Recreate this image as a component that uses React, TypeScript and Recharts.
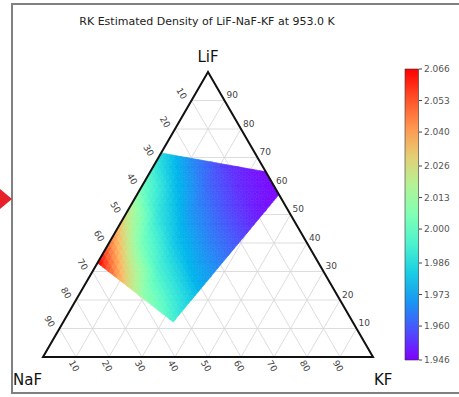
import { ScatterChart, Scatter, XAxis, YAxis, BarChart, Bar } from 'recharts'

const SQ = Math.sqrt(3) / 2

const TITLE = 'RK Estimated Density of LiF-NaF-KF at 953.0 K'
const tickPercents = [10, 20, 30, 40, 50, 60, 70, 80, 90]

// corners of the shaded composition region (mole fractions)
const regionLiF = [0.716, 0.65, 0.57, 0.123, 0.33]
const regionKF = [0, 0.35, 0.43, 0.333, 0]

// density read at the 10 % grid nodes: rows = LiF 10..80 %, columns = KF 0, 10, 20 ... %
const densityRows = [
  [2.11, 2.06, 2.034, 2.003, 1.982, 1.97],
  [2.09, 2.053, 2.012, 1.99, 1.973, 1.962],
  [2.075, 2.03, 1.994, 1.976, 1.966, 1.958],
  [2.048, 2.004, 1.98, 1.967, 1.958, 1.95],
  [2.025, 1.988, 1.97, 1.959, 1.95, 1.946],
  [2.002, 1.978, 1.962, 1.952, 1.947],
  [1.986, 1.968, 1.955, 1.948],
  [1.976, 1.96],
]

const cbarMin = 1.946
const cbarMax = 2.066
const cbarTicks = [1.946, 1.96, 1.973, 1.986, 2.0, 2.013, 2.026, 2.04, 2.053, 2.066]

// layout of the triangle plot
const W = 459
const H = 397
const M = { top: 72, right: 86, bottom: 40, left: 43 }
const KX = W - M.left - M.right
const KY = (H - M.top - M.bottom) / SQ

const toXY = (lif: number, kf: number) => [kf + lif / 2, lif * SQ]

// matplotlib "rainbow"
function rainbow(t: number) {
  const v = Math.max(0, Math.min(1, t))
  const r = Math.min(1, Math.abs(2 * v - 0.5))
  const g = Math.sin(Math.PI * v)
  const b = Math.cos((Math.PI * v) / 2)
  return `rgb(${Math.round(r * 255)},${Math.round(g * 255)},${Math.round(b * 255)})`
}

function nodeVal(i: number, j: number) {
  const row = densityRows[i - 1]
  return row[Math.min(j, row.length - 1)]
}

function densityAt(lif: number, kf: number) {
  const a = lif * 10
  const b = kf * 10
  const i = Math.min(7, Math.max(1, Math.floor(a)))
  const j = Math.max(0, Math.floor(b))
  const fa = a - i
  const fb = b - j
  if (fa + fb <= 1) {
    return nodeVal(i, j) * (1 - fa - fb) + nodeVal(i + 1, j) * fa + nodeVal(i, j + 1) * fb
  }
  return (
    nodeVal(i + 1, j + 1) * (fa + fb - 1) +
    nodeVal(i + 1, j) * (1 - fb) +
    nodeVal(i, j + 1) * (1 - fa)
  )
}

const regionXY = regionLiF.map((a, i) => toXY(a, regionKF[i]))
const orient = Math.sign(
  regionXY.reduce((s, p, i) => {
    const q = regionXY[(i + 1) % regionXY.length]
    return s + p[0] * q[1] - q[0] * p[1]
  }, 0)
)

function clipToRegion(poly: number[][]) {
  let out = poly
  for (let e = 0; e < regionXY.length && out.length; e++) {
    const A = regionXY[e]
    const B = regionXY[(e + 1) % regionXY.length]
    const side = (p: number[]) =>
      orient * ((B[0] - A[0]) * (p[1] - A[1]) - (B[1] - A[1]) * (p[0] - A[0]))
    const input = out
    out = []
    for (let k = 0; k < input.length; k++) {
      const P = input[k]
      const Q = input[(k + 1) % input.length]
      const sp = side(P)
      const sq = side(Q)
      if (sp >= 0) out.push(P)
      if (sp >= 0 !== sq >= 0) {
        const t = sp / (sp - sq)
        out.push([P[0] + t * (Q[0] - P[0]), P[1] + t * (Q[1] - P[1])])
      }
    }
  }
  return out
}

const N = 60
const cells: { x: number; y: number; pts: number[][]; fill: string }[] = []
for (let i = 0; i < N; i++) {
  for (let j = 0; j < N - i; j++) {
    const tris = [[toXY(i / N, j / N), toXY((i + 1) / N, j / N), toXY(i / N, (j + 1) / N)]]
    if (i + j < N - 1) {
      tris.push([toXY((i + 1) / N, j / N), toXY((i + 1) / N, (j + 1) / N), toXY(i / N, (j + 1) / N)])
    }
    for (const tri of tris) {
      const poly = clipToRegion(tri)
      if (poly.length < 3) continue
      const cx = poly.reduce((s, p) => s + p[0], 0) / poly.length
      const cy = poly.reduce((s, p) => s + p[1], 0) / poly.length
      const lif = cy / SQ
      const d = densityAt(lif, cx - lif / 2)
      cells.push({
        x: cx,
        y: cy,
        pts: poly.map((p) => [p[0] - cx, p[1] - cy]),
        fill: rainbow((d - cbarMin) / (cbarMax - cbarMin)),
      })
    }
  }
}

const gridSegs = tickPercents.flatMap((p) => {
  const f = p / 100
  const pairs = [
    [toXY(f, 0), toXY(f, 1 - f)],
    [toXY(0, f), toXY(1 - f, f)],
    [toXY(1 - f, 0), toXY(0, 1 - f)],
  ]
  return pairs.map(([a, b]) => ({ x: a[0], y: a[1], dx: b[0] - a[0], dy: b[1] - a[1] }))
})

const cornerXY = [toXY(1, 0), toXY(0, 0), toXY(0, 1)]
const borderData = [{ x: cornerXY[0][0], y: cornerXY[0][1] }]

const leftTicks = tickPercents.map((p) => {
  const [x, y] = toXY(1 - p / 100, 0)
  return { x, y, label: String(p) }
})
const rightTicks = tickPercents.map((p) => {
  const [x, y] = toXY(p / 100, 1 - p / 100)
  return { x, y, label: String(p) }
})
const bottomTicks = tickPercents.map((p) => {
  const [x, y] = toXY(0, p / 100)
  return { x, y, label: String(p) }
})
const cornerLabels = ['LiF', 'NaF', 'KF'].map((name, i) => ({
  x: cornerXY[i][0],
  y: cornerXY[i][1],
  name,
}))

const cbData = [{ name: 'density', span: [cbarMin, cbarMax] }]
const cbStops = [0, 0.1, 0.2, 0.3, 0.4, 0.5, 0.6, 0.7, 0.8, 0.9, 1]

const GridShape = (props: any) => {
  const { cx, cy, payload } = props
  return (
    <line
      x1={cx}
      y1={cy}
      x2={cx + payload.dx * KX}
      y2={cy - payload.dy * KY}
      stroke="#d4d4d4"
      strokeWidth={0.8}
    />
  )
}

const CellShape = (props: any) => {
  const { cx, cy, payload } = props
  const d =
    payload.pts
      .map((p: number[], i: number) => `${i ? 'L' : 'M'}${cx + p[0] * KX},${cy - p[1] * KY}`)
      .join('') + 'Z'
  return <path d={d} fill={payload.fill} stroke={payload.fill} strokeWidth={0.6} />
}

const BorderShape = (props: any) => {
  const { cx, cy } = props
  const [x0, y0] = cornerXY[0]
  const d =
    cornerXY
      .map((p, i) => `${i ? 'L' : 'M'}${cx + (p[0] - x0) * KX},${cy - (p[1] - y0) * KY}`)
      .join('') + 'Z'
  return <path d={d} fill="none" stroke="#111" strokeWidth={2} strokeLinejoin="miter" />
}

const tickText = { fontSize: 9, fill: '#444' }

const LeftTick = (props: any) => {
  const x = props.cx - 10
  const y = props.cy - 7
  return (
    <text x={x} y={y} transform={`rotate(60 ${x} ${y})`} textAnchor="middle" dominantBaseline="central" {...tickText}>
      {props.payload.label}
    </text>
  )
}

const RightTick = (props: any) => (
  <text x={props.cx + 2} y={props.cy - 5.5} textAnchor="start" dominantBaseline="central" {...tickText}>
    {props.payload.label}
  </text>
)

const BottomTick = (props: any) => {
  const x = props.cx - 2
  const y = props.cy + 9
  return (
    <text x={x} y={y} transform={`rotate(60 ${x} ${y})`} textAnchor="middle" dominantBaseline="central" {...tickText}>
      {props.payload.label}
    </text>
  )
}

const labelOffsets: Record<string, [number, number, string]> = {
  LiF: [0, -10, 'middle'],
  NaF: [-30, 28, 'start'],
  KF: [1, 28, 'start'],
}

const CornerLabel = (props: any) => {
  const [dx, dy, anchor] = labelOffsets[props.payload.name]
  return (
    <text x={props.cx + dx} y={props.cy + dy} textAnchor={anchor as any} fontSize={15} fill="#111">
      {props.payload.name}
    </text>
  )
}

export default function App() {
  return (
    <div
      style={{
        position: 'absolute',
        left: 0,
        top: 0,
        width: W,
        height: H,
        overflow: 'hidden',
        background: '#fff',
        fontFamily: '"DejaVu Sans", sans-serif',
      }}
    >
      <div
        style={{
          position: 'absolute',
          left: 11,
          top: 3,
          width: 460,
          height: 387,
          borderLeft: '2px solid #808080',
          borderTop: '2px solid #808080',
          borderBottom: '2px solid #808080',
        }}
      />
      <svg width={14} height={30} style={{ position: 'absolute', left: 0, top: 185 }}>
        <polygon points="0,4 12,14 0,24" fill="#e8202a" />
      </svg>
      <div
        style={{
          position: 'absolute',
          left: 0,
          top: 15,
          width: 414,
          textAlign: 'center',
          fontSize: 11,
          lineHeight: '13px',
          color: '#222',
        }}
      >
        {TITLE}
      </div>
      <div style={{ position: 'absolute', left: 0, top: 0 }}>
        <ScatterChart width={W} height={H} margin={M}>
          <XAxis type="number" dataKey="x" domain={[0, 1]} hide />
          <YAxis type="number" dataKey="y" domain={[0, SQ]} hide />
          <Scatter data={gridSegs} shape={GridShape} isAnimationActive={false} />
          <Scatter data={cells} shape={CellShape} isAnimationActive={false} />
          <Scatter data={borderData} shape={BorderShape} isAnimationActive={false} />
          <Scatter data={leftTicks} shape={LeftTick} isAnimationActive={false} />
          <Scatter data={rightTicks} shape={RightTick} isAnimationActive={false} />
          <Scatter data={bottomTicks} shape={BottomTick} isAnimationActive={false} />
          <Scatter data={cornerLabels} shape={CornerLabel} isAnimationActive={false} />
        </ScatterChart>
      </div>
      <div style={{ position: 'absolute', left: 404, top: 61 }}>
        <BarChart
          width={55}
          height={307}
          data={cbData}
          margin={{ top: 8, right: 0, bottom: 8, left: 0 }}
          barCategoryGap={0}
        >
          <defs>
            <linearGradient id="cbar" x1="0" y1="1" x2="0" y2="0">
              {cbStops.map((t) => (
                <stop key={t} offset={`${t * 100}%`} stopColor={rainbow(t)} />
              ))}
            </linearGradient>
          </defs>
          <XAxis dataKey="name" type="category" hide />
          <YAxis
            orientation="right"
            width={40}
            domain={[cbarMin, cbarMax]}
            ticks={cbarTicks}
            interval={0}
            tickFormatter={(v: number) => v.toFixed(3)}
            tick={{ fontSize: 9, fill: '#555' }}
            tickLine={{ stroke: '#444' }}
            tickSize={3}
            tickMargin={2}
            axisLine={false}
          />
          <Bar dataKey="span" barSize={15} fill="url(#cbar)" stroke="#333" strokeWidth={0.6} isAnimationActive={false} />
        </BarChart>
      </div>
    </div>
  )
}
